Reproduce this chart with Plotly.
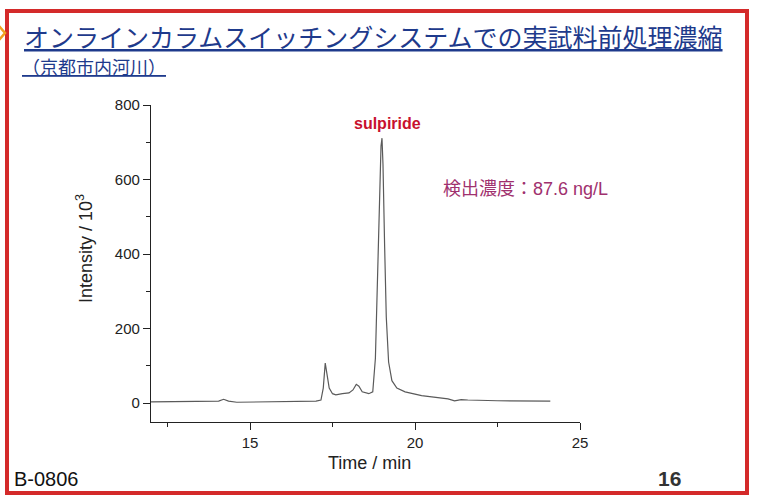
import plotly.graph_objects as go

# ---- data ----
time_min = [12.0, 13.9, 14.05, 14.2, 14.35, 14.6, 16.0, 17.0, 17.15, 17.22, 17.28, 17.33,
            17.4, 17.5, 17.6, 17.8, 18.0, 18.12, 18.22, 18.3, 18.4, 18.6, 18.72, 18.8,
            18.86, 18.92, 18.97, 19.0, 19.03, 19.08, 19.13, 19.2, 19.3, 19.45, 19.7,
            20.2, 21.0, 21.2, 21.4, 21.6, 22.5, 24.1]
intensity = [3, 3, 5, 10, 5, 2, 3, 5, 8, 40, 107, 80,
             40, 25, 22, 25, 27, 35, 50, 45, 30, 25, 30, 120,
             300, 520, 690, 711, 640, 420, 230, 110, 60, 40, 30,
             20, 11, 6, 9, 8, 6, 5]
x_ticks = [15, 20, 25]
y_ticks = [0, 200, 400, 600, 800]

W, H = 758, 497
L, R, T, B = 151, 580, 105, 422


def px(x):
    return (x - L) / (R - L)


def py(y):
    return (B - y) / (B - T)


fig = go.Figure()
fig.add_trace(go.Scatter(x=time_min, y=intensity, mode="lines",
                         line=dict(color="#5a5a5a", width=1.2),
                         hoverinfo="skip", showlegend=False))

axis_common = dict(showline=True, linecolor="#222", linewidth=1.3, ticks="outside",
                   ticklen=7, tickwidth=1.2, tickcolor="#222", showgrid=False,
                   zeroline=False, mirror=False,
                   tickfont=dict(family="Liberation Sans, Arial", size=15, color="#222"))

fig.update_xaxes(range=[12, 25], tickvals=x_ticks,
                 minor=dict(dtick=2.5, tick0=0, ticks="outside", ticklen=4, tickcolor="#222"),
                 **axis_common)
fig.update_yaxes(range=[-51, 800], tickvals=y_ticks,
                 minor=dict(dtick=100, tick0=0, ticks="outside", ticklen=4, tickcolor="#222"),
                 **axis_common)

ann = []
ann.append(dict(text="オンラインカラムスイッチングシステムでの実試料前処理濃縮",
                x=px(22), y=py(36), xref="paper", yref="paper", xanchor="left", yanchor="middle",
                showarrow=False,
                font=dict(family="Noto Sans CJK JP", size=25, color="#1e3a8c", lineposition="under")))
ann.append(dict(text="（京都市内河川）",
                x=px(20), y=py(66), xref="paper", yref="paper", xanchor="left", yanchor="middle",
                showarrow=False,
                font=dict(family="Noto Sans CJK JP", size=18, color="#1e3a8c", lineposition="under")))
ann.append(dict(text="<b>sulpiride</b>", x=px(387), y=py(124), xref="paper", yref="paper",
                xanchor="center", yanchor="middle", showarrow=False,
                font=dict(family="Liberation Sans, Arial", size=16, color="#c8102e")))
ann.append(dict(text="検出濃度：87.6 ng/L", x=px(441), y=py(189), xref="paper", yref="paper",
                xanchor="left", yanchor="middle", showarrow=False,
                font=dict(family="Liberation Sans, Noto Sans CJK JP", size=18, color="#a0306e")))
ann.append(dict(text="Intensity / 10<sup>3</sup>", x=px(85), y=py(249), xref="paper", yref="paper",
                xanchor="center", yanchor="middle", showarrow=False, textangle=-90,
                font=dict(family="Liberation Sans, Arial", size=18, color="#222")))
ann.append(dict(text="Time / min", x=px(369), y=py(463), xref="paper", yref="paper",
                xanchor="center", yanchor="middle", showarrow=False,
                font=dict(family="Liberation Sans, Arial", size=18, color="#222")))
ann.append(dict(text="B-0806", x=px(12), y=py(479), xref="paper", yref="paper",
                xanchor="left", yanchor="middle", showarrow=False,
                font=dict(family="Liberation Sans, Arial", size=20, color="#111")))
ann.append(dict(text="<b>16</b>", x=px(669), y=py(478), xref="paper", yref="paper",
                xanchor="center", yanchor="middle", showarrow=False,
                font=dict(family="Liberation Sans, Arial", size=21, color="#333")))

shapes = [
    dict(type="rect", xref="paper", yref="paper", x0=px(7), x1=px(747), y0=py(493), y1=py(11),
         line=dict(color="#d42a2a", width=4), fillcolor="rgba(0,0,0,0)", layer="above"),
    dict(type="path", xref="paper", yref="paper",
         path=f"M {px(-1)} {py(26)} L {px(5)} {py(33)} L {px(-1)} {py(40)}",
         line=dict(color="#f0a020", width=2.5)),
]

fig.update_layout(width=W, height=H, margin=dict(l=L, r=W - R, t=T, b=H - B),
                  paper_bgcolor="white", plot_bgcolor="white",
                  annotations=ann, shapes=shapes)

fig.write_html("out.html")
